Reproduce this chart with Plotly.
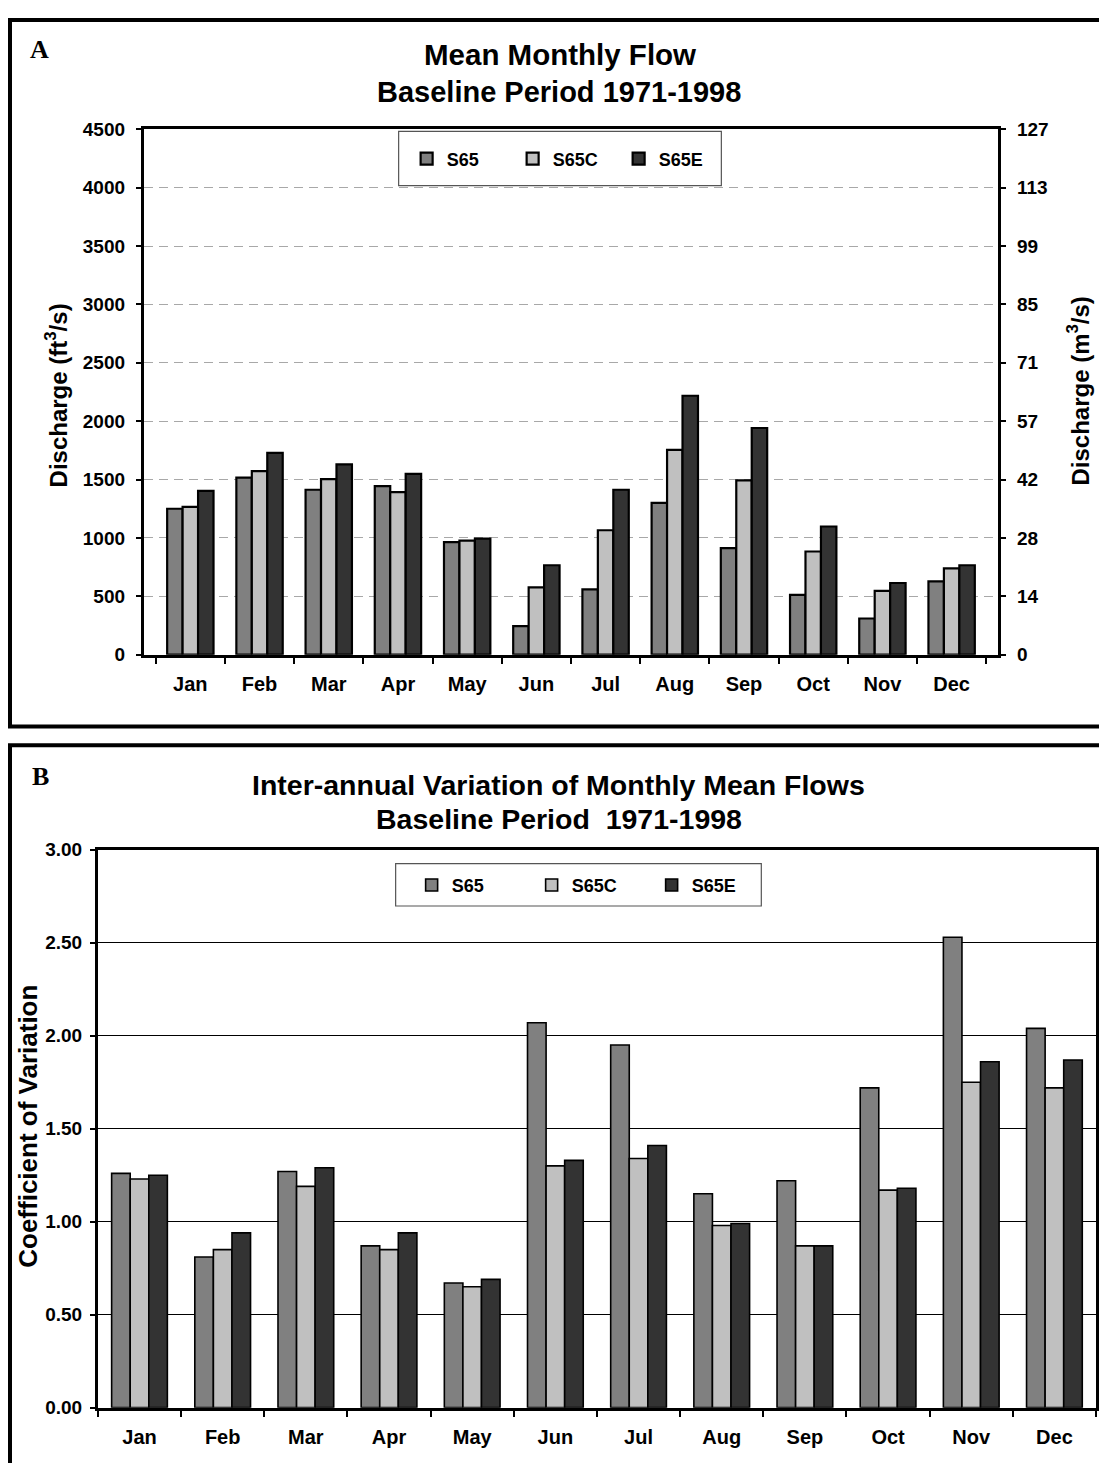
import plotly.graph_objects as go

# The page keeps the browser's default 8px body margin, so the figure sits at
# (8, 8) in the page; it is sized so the page exactly fills the window.
OFF = 8
W, H = 1107 - 2 * OFF, 1471 - 2 * OFF

months = ["Jan", "Feb", "Mar", "Apr", "May", "Jun", "Jul", "Aug", "Sep", "Oct", "Nov", "Dec"]
series_names = ["S65", "S65C", "S65E"]
series_colors = ["#808080", "#c0c0c0", "#333333"]

flow_s65 = [1250, 1517, 1413, 1444, 965, 245, 560, 1300, 912, 512, 310, 628]
flow_s65c = [1266, 1573, 1503, 1393, 977, 577, 1066, 1754, 1494, 884, 546, 740]
flow_s65e = [1404, 1728, 1630, 1548, 994, 766, 1413, 2218, 1942, 1098, 614, 766]

cv_s65 = [1.26, 0.81, 1.27, 0.87, 0.67, 2.07, 1.95, 1.15, 1.22, 1.72, 2.53, 2.04]
cv_s65c = [1.23, 0.85, 1.19, 0.85, 0.65, 1.30, 1.34, 0.98, 0.87, 1.17, 1.75, 1.72]
cv_s65e = [1.25, 0.94, 1.29, 0.94, 0.69, 1.33, 1.41, 0.99, 0.87, 1.18, 1.86, 1.87]

flow_ticks = [0, 500, 1000, 1500, 2000, 2500, 3000, 3500, 4000, 4500]
metric_tick_labels = ["0", "14", "28", "42", "57", "71", "85", "99", "113", "127"]
cv_ticks = [0, 0.5, 1.0, 1.5, 2.0, 2.5, 3.0]


def px(x):
    return (x - OFF) / W


def py(y):
    return 1 - (y - OFF) / H


FONT = "Liberation Sans, Arial, sans-serif"
BOLD = dict(family=FONT, color="black", weight="bold")

fig = go.Figure()

for name, color, vals in zip(series_names, series_colors, [flow_s65, flow_s65c, flow_s65e]):
    fig.add_trace(go.Bar(
        x=months, y=vals, name=name, xaxis="x", yaxis="y",
        marker=dict(color=color, line=dict(color="black", width=2.2)),
        legend="legend",
    ))

# invisible trace to activate right axis
fig.add_trace(go.Scatter(x=months, y=flow_s65, xaxis="x", yaxis="y2",
                         mode="markers", marker=dict(opacity=0), showlegend=False,
                         hoverinfo="skip"))

for name, color, vals in zip(series_names, series_colors, [cv_s65, cv_s65c, cv_s65e]):
    fig.add_trace(go.Bar(
        x=months, y=vals, name=name, xaxis="x2", yaxis="y3",
        marker=dict(color=color, line=dict(color="black", width=1.6)),
        legend="legend2",
    ))

tickfont = dict(size=19, **BOLD)
xtickfont = dict(size=20, **BOLD)

fig.update_layout(
    width=W, height=H,
    margin=dict(l=0, r=0, t=0, b=0),
    paper_bgcolor="white", plot_bgcolor="white",
    barmode="group",
    bargap=0.33,
    bargroupgap=0,
    font=dict(family=FONT, color="black"),
    xaxis=dict(
        domain=[px(144), px(999)], anchor="y",
        showline=True, linecolor="black", linewidth=3, mirror=True,
        ticks="outside", tickson="boundaries", ticklen=6, tickwidth=2, tickcolor="black",
        tickfont=xtickfont, ticklabelstandoff=9, showgrid=False,
    ),
    yaxis=dict(
        domain=[py(654), py(121)], anchor="x",
        range=[0, 4500], tickvals=flow_ticks,
        showline=True, linecolor="black", linewidth=3,
        ticks="outside", ticklen=5, tickwidth=1.5, tickcolor="black",
        tickfont=tickfont, ticklabelstandoff=7,
        showgrid=True, gridcolor="#a8a8a8", gridwidth=1, griddash="9px,6px",
        zeroline=False,
    ),
    yaxis2=dict(
        overlaying="y", side="right", anchor="x",
        range=[0, 4500], tickvals=flow_ticks, ticktext=metric_tick_labels,
        showline=True, linecolor="black", linewidth=3,
        ticks="outside", ticklen=5, tickwidth=1.5, tickcolor="black",
        tickfont=tickfont, ticklabelstandoff=7,
        showgrid=False, zeroline=False,
    ),
    xaxis2=dict(
        domain=[px(98), px(1097)], anchor="y3",
        showline=True, linecolor="black", linewidth=3, mirror=True,
        ticks="outside", tickson="boundaries", ticklen=6, tickwidth=2, tickcolor="black",
        tickfont=xtickfont, ticklabelstandoff=9, showgrid=False,
    ),
    yaxis3=dict(
        domain=[py(1418), py(852)], anchor="x2",
        range=[0, 3], tickvals=cv_ticks, tickformat=".2f",
        showline=True, linecolor="black", linewidth=3, mirror=True,
        ticks="outside", ticklen=5, tickwidth=1.5, tickcolor="black",
        tickfont=tickfont, ticklabelstandoff=4,
        showgrid=True, gridcolor="black", gridwidth=1,
        zeroline=False,
    ),
    legend=dict(
        orientation="h", x=px(407), y=py(151), xanchor="left", yanchor="middle",
        bgcolor="rgba(0,0,0,0)", borderwidth=0,
        font=dict(size=18, **BOLD), entrywidth=61, entrywidthmode="pixels",
        itemwidth=30, traceorder="normal",
    ),
    legend2=dict(
        orientation="h", x=px(412), y=py(888), xanchor="left", yanchor="middle",
        bgcolor="rgba(0,0,0,0)", borderwidth=0,
        font=dict(size=18, **BOLD), entrywidth=75, entrywidthmode="pixels",
        itemwidth=30, traceorder="normal",
    ),
    showlegend=True,
)

shapes = [
    # panel A frame
    dict(type="rect", xref="paper", yref="paper", x0=px(10), x1=px(1125), y0=py(727), y1=py(10),
         line=dict(color="black", width=4), fillcolor="rgba(0,0,0,0)", layer="below"),
    # panel B frame
    dict(type="rect", xref="paper", yref="paper", x0=px(10), x1=px(1125), y0=py(1490), y1=py(746),
         line=dict(color="black", width=4), fillcolor="rgba(0,0,0,0)", layer="below"),
    # legend boxes
    dict(type="rect", xref="paper", yref="paper", x0=px(399), x1=px(722), y0=py(178), y1=py(123),
         line=dict(color="#555555", width=1.2), fillcolor="white", layer="above"),
    dict(type="rect", xref="paper", yref="paper", x0=px(396), x1=px(762), y0=py(909), y1=py(866),
         line=dict(color="#555555", width=1.2), fillcolor="white", layer="above"),
]
fig.update_layout(shapes=shapes)

SERIF = "Liberation Serif, Times New Roman, serif"
ann = [
    dict(text="A", x=px(40), y=py(40), font=dict(family=SERIF, size=26, color="black", weight="bold")),
    dict(text="B", x=px(41), y=py(778), font=dict(family=SERIF, size=26, color="black", weight="bold")),
    dict(text="Mean Monthly Flow", x=px(561), y=py(45), font=dict(size=29.5, **BOLD)),
    dict(text="Baseline Period 1971-1998", x=px(560), y=py(83), font=dict(size=29, **BOLD)),
    dict(text="Inter-annual Variation of Monthly Mean Flows", x=px(559), y=py(786), font=dict(size=28.5, **BOLD)),
    dict(text="Baseline Period  1971-1998", x=px(560), y=py(821), font=dict(size=28.5, **BOLD)),
    dict(text="Discharge (ft<sup>3</sup>/s)", x=px(57), y=py(391), textangle=-90, font=dict(size=24, **BOLD)),
    dict(text="Discharge (m<sup>3</sup>/s)", x=px(1079), y=py(387), textangle=-90, font=dict(size=24, **BOLD)),
    dict(text="Coefficient of Variation", x=px(28), y=py(1132), textangle=-90, font=dict(size=26, **BOLD)),
]
for a in ann:
    a.update(xref="paper", yref="paper", showarrow=False, xanchor="center", yanchor="middle")
fig.update_layout(annotations=ann)

fig.write_html("out.html", config={"displayModeBar": False})
